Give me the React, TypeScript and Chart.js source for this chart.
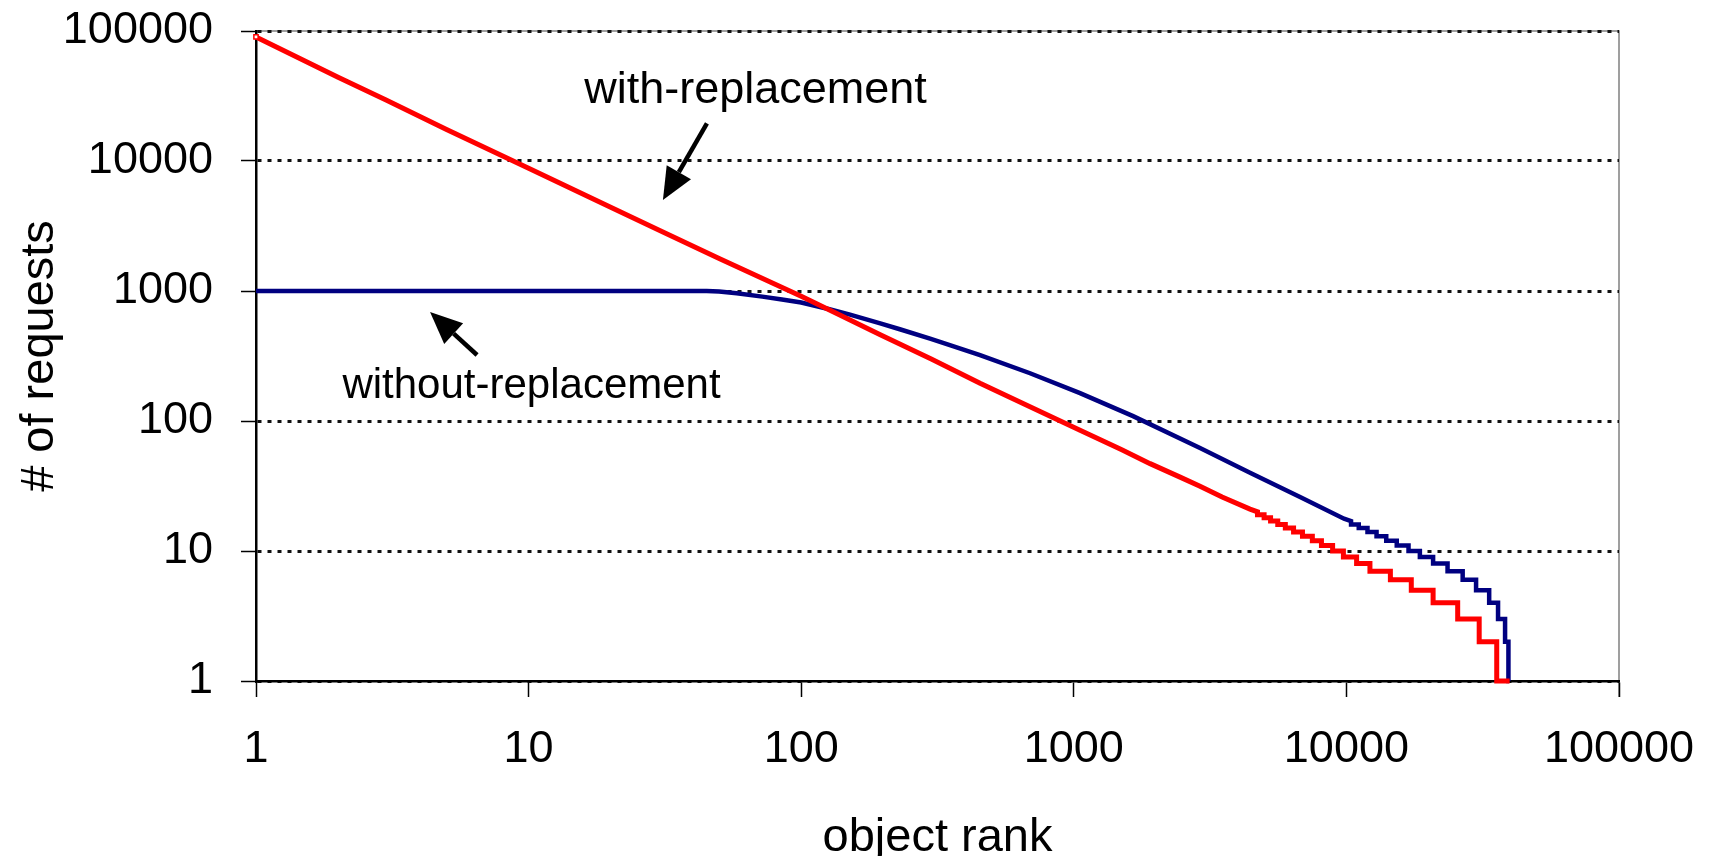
import React, { useEffect, useRef } from 'react';
import { Chart, registerables } from 'chart.js';

Chart.register(...registerables);

// Requests per object, ranked by popularity (log-log).
const withRank = [
  1, 2, 3, 5, 10, 20, 30, 50, 84, 100, 135, 195, 300, 453, 700, 1054, 1500, 1905, 2454, 2904,
  3500, 4430, 4720, 4720, 4990, 4990, 5270, 5270, 5600, 5600, 5970, 5970,
  6400, 6400, 6900, 6900, 7500, 7500, 8100, 8100, 8900, 8900, 9750, 9750, 10900, 10900,
  12200, 12200, 14500, 14500, 17300, 17300, 20800, 20800, 25600, 25600, 30700, 30700,
  35600, 35600, 39700,
];
const withCount = [
  90000, 44000, 29500, 17500, 8800, 4400, 2950, 1780, 1080, 910, 670, 460, 300, 195, 127, 85, 60, 47, 37, 31.5,
  26, 21, 20, 19, 19, 18, 18, 17, 17, 16, 16, 15,
  15, 14, 14, 13, 13, 12, 12, 11, 11, 10, 10, 9, 9, 8,
  8, 7, 7, 6, 6, 5, 5, 4, 4, 3, 3, 2,
  2, 1, 1,
];

const withoutRank = [
  1, 45, 50, 58, 72, 85, 100, 127, 151, 195, 230, 297, 351, 453, 691, 1054, 1650, 2904,
  4430, 6760, 9800, 10400, 10400, 11100, 11100, 11950, 11950, 12900, 12900, 14000, 14000,
  15300, 15300, 16900, 16900, 18600, 18600, 20800, 20800, 23500, 23500,
  26700, 26700, 29900, 29900, 33400, 33400, 36000, 36000, 38200, 38200, 39300, 39300, 39500,
];
const withoutCount = [
  1000, 1000, 990, 960, 905, 860, 815, 723, 658, 564, 508, 430, 384, 321, 233, 164, 109, 62,
  40, 26, 17.7, 17, 16, 16, 15, 15, 14, 14, 13, 13, 12,
  12, 11, 11, 10, 10, 9, 9, 8, 8, 7,
  7, 6, 6, 5, 5, 4, 4, 3, 3, 2, 2, 1, 1,
];

const xTickValues = [1, 10, 100, 1000, 10000, 100000];
const yTickValues = [1, 10, 100, 1000, 10000, 100000];

const seriesNames = ['with-replacement', 'without-replacement'];
const seriesColors = ['#ff0000', '#000080'];

const xTitle = 'object rank';
const yTitle = '# of requests';

// Callout labels and arrows, anchored in data space (rank, requests)
const noteLabels = [
  { text: 'with-replacement', rank: 68, count: 27900, size: 45 },
  { text: 'without-replacement', rank: 10.25, count: 150, size: 42 },
];
const noteArrows = [
  { fromRank: 45.1, fromCount: 19500, toRank: 31.1, toCount: 5012 },
  { fromRank: 6.47, fromCount: 322, toRank: 4.35, toCount: 689 },
];

const FONT = "'Liberation Sans', Arial, Helvetica, sans-serif";

const calloutPlugin = {
  id: 'callouts',
  beforeDraw(chart: any) {
    const { ctx, chartArea } = chart;
    ctx.save();
    ctx.strokeStyle = '#808080';
    ctx.lineWidth = 1.5;
    ctx.beginPath();
    ctx.moveTo(chartArea.left, chartArea.top);
    ctx.lineTo(chartArea.right, chartArea.top);
    ctx.lineTo(chartArea.right, chartArea.bottom + 16);
    ctx.stroke();
    ctx.restore();
  },
  afterDraw(chart: any) {
    const { ctx, chartArea, scales } = chart;
    const xs = scales.x;
    const ys = scales.y;
    ctx.save();
    ctx.fillStyle = '#000';
    ctx.strokeStyle = '#000';

    // callout text
    ctx.textAlign = 'center';
    ctx.textBaseline = 'alphabetic';
    for (const n of noteLabels) {
      ctx.font = `${n.size}px ${FONT}`;
      ctx.fillText(n.text, xs.getPixelForValue(n.rank), ys.getPixelForValue(n.count));
    }

    // arrows
    for (const a of noteArrows) {
      const x1 = xs.getPixelForValue(a.fromRank);
      const y1 = ys.getPixelForValue(a.fromCount);
      const x2 = xs.getPixelForValue(a.toRank);
      const y2 = ys.getPixelForValue(a.toCount);
      const ang = Math.atan2(y2 - y1, x2 - x1);
      const headLen = 32;
      const headHalf = 14;
      const bx = x2 - headLen * Math.cos(ang);
      const by = y2 - headLen * Math.sin(ang);
      ctx.lineWidth = 4.5;
      ctx.beginPath();
      ctx.moveTo(x1, y1);
      ctx.lineTo(bx, by);
      ctx.stroke();
      ctx.beginPath();
      ctx.moveTo(x2, y2);
      ctx.lineTo(bx + headHalf * Math.sin(ang), by - headHalf * Math.cos(ang));
      ctx.lineTo(bx - headHalf * Math.sin(ang), by + headHalf * Math.cos(ang));
      ctx.closePath();
      ctx.fill();
    }

    // axis titles
    ctx.font = `47px ${FONT}`;
    ctx.textAlign = 'center';
    ctx.textBaseline = 'alphabetic';
    ctx.fillText(xTitle, (chartArea.left + chartArea.right) / 2, chart.height - 5);
    ctx.translate(53, (chartArea.top + chartArea.bottom) / 2);
    ctx.rotate(-Math.PI / 2);
    ctx.fillText(yTitle, 0, 0);
    ctx.restore();
  },
};

export default function App() {
  const canvasRef = useRef<HTMLCanvasElement | null>(null);

  useEffect(() => {
    if (!canvasRef.current) return;
    const tickFont = { family: FONT, size: 45 };
    const chart = new Chart(canvasRef.current, {
      type: 'line',
      data: {
        datasets: [
          {
            label: seriesNames[0],
            data: withRank.map((r, i) => ({ x: r, y: withCount[i] })),
            borderColor: seriesColors[0],
            backgroundColor: seriesColors[0],
            borderWidth: 5,
            pointRadius: (c: any) => (c.dataIndex === 0 ? 3 : 0),
            pointStyle: 'rect',
            pointBackgroundColor: '#ffffff',
            pointBorderColor: seriesColors[0],
            pointBorderWidth: 1.5,
            tension: 0,
            fill: false,
            clip: false,
          },
          {
            label: seriesNames[1],
            data: withoutRank.map((r, i) => ({ x: r, y: withoutCount[i] })),
            borderColor: seriesColors[1],
            backgroundColor: seriesColors[1],
            borderWidth: 4.5,
            pointRadius: 0,
            tension: 0,
            fill: false,
            clip: false,
          },
        ],
      },
      options: {
        animation: false,
        responsive: false,
        maintainAspectRatio: false,
        layout: { padding: { left: 0, right: 94, top: 31, bottom: 0 } },
        plugins: {
          legend: { display: false },
          tooltip: { enabled: false },
        },
        scales: {
          x: {
            type: 'logarithmic',
            min: 1,
            max: 100000,
            afterBuildTicks: (s: any) => {
              s.ticks = xTickValues.map((v) => ({ value: v }));
            },
            afterFit: (s: any) => {
              s.height = 175;
              s.paddingLeft = 0;
              s.paddingRight = 0;
            },
            ticks: {
              callback: (v: any) => String(v),
              font: tickFont,
              color: '#000',
              padding: 26,
              maxRotation: 0,
              autoSkip: false,
            },
            grid: {
              drawOnChartArea: false,
              drawTicks: true,
              tickLength: 16,
              tickColor: '#000',
              tickWidth: 1.5,
            },
            border: { display: true, color: '#000', width: 2.5 },
          },
          y: {
            type: 'logarithmic',
            min: 1,
            max: 100000,
            afterBuildTicks: (s: any) => {
              s.ticks = yTickValues.map((v) => ({ value: v }));
            },
            afterFit: (s: any) => {
              s.width = 256;
              s.paddingTop = 0;
              s.paddingBottom = 0;
            },
            ticks: {
              callback: (v: any) => String(v),
              font: tickFont,
              color: '#000',
              padding: 28,
              autoSkip: false,
            },
            grid: {
              color: '#111',
              lineWidth: 3,
              drawTicks: true,
              tickLength: 15,
              tickColor: '#000',
              tickWidth: 1.5,
              tickBorderDash: [],
            },
            border: { display: true, color: '#000', width: 2.5, dash: [4, 6] },
          },
        },
      },
      plugins: [calloutPlugin],
    } as any);
    return () => chart.destroy();
  }, []);

  return (
    <div style={{ position: 'fixed', left: 0, top: 0, width: 1713, height: 856, background: '#fff' }}>
      <canvas ref={canvasRef} width={1713} height={856} style={{ display: 'block' }} />
    </div>
  );
}
